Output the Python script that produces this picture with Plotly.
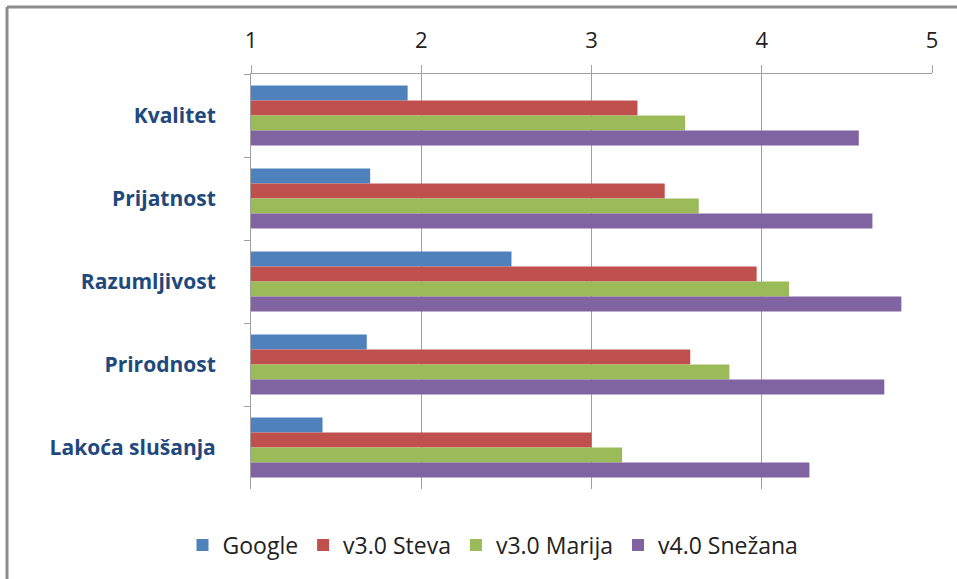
import plotly.graph_objects as go

categories = ["Kvalitet", "Prijatnost", "Razumljivost", "Prirodnost", "Lakoća slušanja"]
series_names = ["Google", "v3.0 Steva", "v3.0 Marija", "v4.0 Snežana"]
google = [1.92, 1.70, 2.53, 1.68, 1.42]
steva = [3.27, 3.43, 3.97, 3.58, 3.00]
marija = [3.55, 3.63, 4.16, 3.81, 3.18]
snezana = [4.57, 4.65, 4.82, 4.72, 4.28]
colors = ["#4F81BD", "#C0504D", "#9BBB59", "#8064A2"]
x_ticks = [1, 2, 3, 4, 5]

fig = go.Figure()
for name, vals, col in zip(series_names, [google, steva, marija, snezana], colors):
    fig.add_trace(go.Bar(
        y=categories, x=[v - 1 for v in vals], base=1, name=name, orientation="h",
        marker=dict(color=col, line=dict(width=0)),
    ))

W, H = 957, 579
L, R, T, B = 251, 25, 74, 90
pw, ph = W - L - R, H - T - B

def px(x):
    return (x - L) / pw

def py(y):
    return 1 - (y - T) / ph

fig.update_layout(
    width=W, height=H,
    margin=dict(l=L, r=R, t=T, b=B),
    paper_bgcolor="white", plot_bgcolor="white",
    barmode="group", bargap=0.28, bargroupgap=0,
    font=dict(family="Open Sans, Liberation Sans, sans-serif", color="#222222"),
    xaxis=dict(
        side="top", range=[1, 5], tickvals=x_ticks, ticktext=[str(t) for t in x_ticks],
        showgrid=True, gridcolor="#A0A0A0", gridwidth=1,
        showline=True, linecolor="#A0A0A0", linewidth=1,
        ticks="outside", ticklen=8, tickcolor="#A0A0A0",
        tickfont=dict(size=22, color="#222222"), zeroline=False,
        ticklabelstandoff=8,
    ),
    yaxis=dict(
        autorange="reversed", showline=True, linecolor="#A0A0A0", linewidth=1,
        ticks="outside", ticklen=6, tickcolor="#A0A0A0", tickson="boundaries",
        tickfont=dict(size=21, color="#1F497D", family="Open Sans, sans-serif", weight="bold"),
        ticklabelstandoff=30, showgrid=False,
    ),
    legend=dict(
        orientation="h", x=px(493), xanchor="center", y=py(545), yanchor="middle",
        font=dict(size=23, color="#222222"), itemwidth=30, tracegroupgap=0,
        itemsizing="constant",
    ),
    shapes=[
        dict(type="line", xref="paper", yref="paper", x0=px(7), x1=px(W + 5), y0=py(7), y1=py(7),
             line=dict(color="#8C8C8C", width=3)),
        dict(type="line", xref="paper", yref="paper", x0=px(7), x1=px(7), y0=py(7), y1=py(H + 5),
             line=dict(color="#8C8C8C", width=3)),
    ],
)

fig.write_html("out.html")
